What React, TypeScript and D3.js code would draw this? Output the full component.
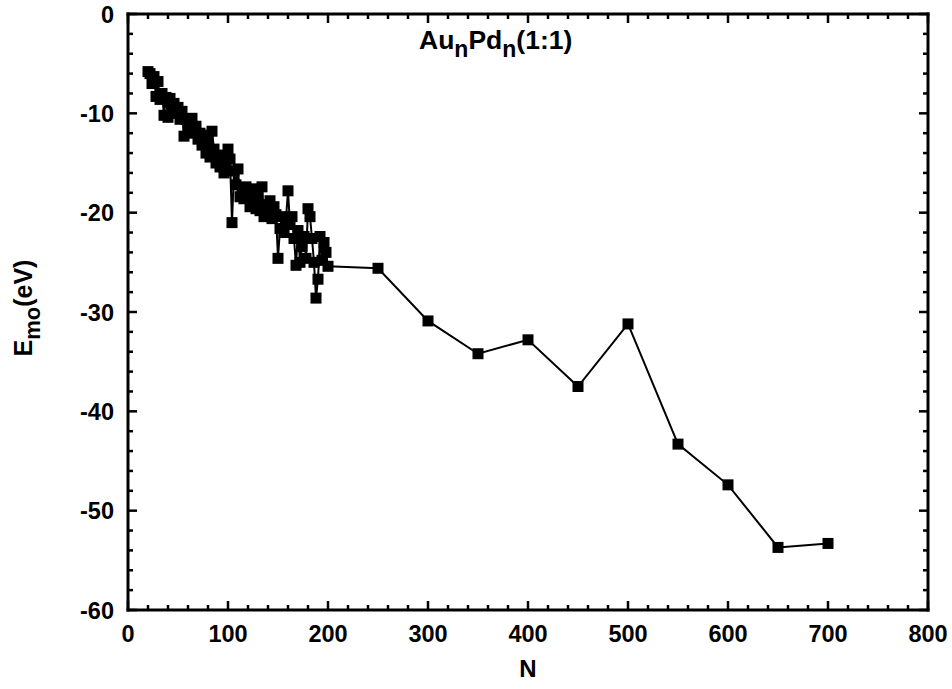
import React from "react";
import * as d3 from "d3";

const clusterN: number[] = d3.range(20, 201, 2);
const clusterE: number[] = [
  -5.8, -6.0, -7.0, -6.3, -8.3, -6.8, -8.6, -8.0, -10.2, -8.4,
  -10.4, -8.5, -9.6, -9.0, -10.0, -9.4, -10.6, -9.8, -12.3, -10.6,
  -11.2, -12.0, -10.5, -11.8, -11.3, -12.6, -12.0, -13.2, -12.2, -14.0,
  -12.8, -14.4, -11.8, -13.6, -15.0, -14.2, -15.4, -14.6, -16.0, -15.0,
  -13.6, -14.6, -21.0, -15.8, -17.2, -15.6, -18.4, -17.6, -18.6, -17.4,
  -18.2, -19.4, -17.6, -18.8, -19.6, -18.4, -19.8, -17.4, -20.4, -19.2,
  -20.0, -18.8, -20.6, -19.4, -20.2, -24.6, -21.6, -20.4, -22.0, -20.6,
  -17.8, -21.2, -20.4, -22.6, -25.3, -21.8, -25.0, -23.4, -22.4, -24.6,
  -19.6, -20.4, -22.6, -25.0, -28.6, -26.7, -22.4, -24.8, -23.0, -24.0,
  -25.4,
];
const largeN: number[] = [250, 300, 350, 400, 450, 500, 550, 600, 650, 700];
const largeE: number[] = [-25.6, -30.9, -34.2, -32.8, -37.5, -31.2, -43.3, -47.4, -53.7, -53.3];

const xTicks: number[] = [0, 100, 200, 300, 400, 500, 600, 700, 800];
const yTicks: number[] = [0, -10, -20, -30, -40, -50, -60];

const FONT = "Arial, 'Liberation Sans', sans-serif";

export default function App() {
  const W = 952, H = 689;
  const left = 128, right = 928, top = 14, bottom = 610;
  const x = d3.scaleLinear().domain([0, 800]).range([left, right]);
  const y = d3.scaleLinear().domain([-60, 0]).range([bottom, top]);

  const data = [
    ...clusterN.map((n, i) => ({ n, e: clusterE[i] })),
    ...largeN.map((n, i) => ({ n, e: largeE[i] })),
  ];
  const line = d3.line<{ n: number; e: number }>().x(d => x(d.n)).y(d => y(d.e));

  const xMinor = d3.range(0, 801, 20).filter(v => v % 100 !== 0);
  const yMinor = d3.range(-60, 1, 2).filter(v => v % 10 !== 0);
  const maj = 9, min = 5;
  const ms = 11;

  const tickRects: { k: string; x: number; y: number; w: number; h: number }[] = [];
  const tw = 2.5;
  xTicks.forEach(v => {
    tickRects.push({ k: "xb" + v, x: x(v) - tw / 2, y: bottom - maj, w: tw, h: maj });
    tickRects.push({ k: "xt" + v, x: x(v) - tw / 2, y: top, w: tw, h: maj });
  });
  xMinor.forEach(v => {
    tickRects.push({ k: "xbm" + v, x: x(v) - tw / 2, y: bottom - min, w: tw, h: min });
    tickRects.push({ k: "xtm" + v, x: x(v) - tw / 2, y: top, w: tw, h: min });
  });
  yTicks.forEach(v => {
    tickRects.push({ k: "yl" + v, x: left, y: y(v) - tw / 2, w: maj, h: tw });
    tickRects.push({ k: "yr" + v, x: right - maj, y: y(v) - tw / 2, w: maj, h: tw });
  });
  yMinor.forEach(v => {
    tickRects.push({ k: "ylm" + v, x: left, y: y(v) - tw / 2, w: min, h: tw });
    tickRects.push({ k: "yrm" + v, x: right - min, y: y(v) - tw / 2, w: min, h: tw });
  });

  const fw = 3;
  return (
    <svg width={W} height={H} style={{ position: "absolute", left: 0, top: 0, background: "#fff" }}>
      <rect x={0} y={0} width={W} height={H} fill="#fff" />
      {tickRects.map(t => (
        <rect key={t.k} x={t.x} y={t.y} width={t.w} height={t.h} fill="#000" />
      ))}
      <rect x={left - fw / 2} y={top - fw / 2} width={right - left + fw} height={fw} fill="#000" />
      <rect x={left - fw / 2} y={bottom - fw / 2} width={right - left + fw} height={fw} fill="#000" />
      <rect x={left - fw / 2} y={top - fw / 2} width={fw} height={bottom - top + fw} fill="#000" />
      <rect x={right - fw / 2} y={top - fw / 2} width={fw} height={bottom - top + fw} fill="#000" />
      <path d={line(data) || ""} fill="none" stroke="#000" strokeWidth="2" />
      {data.map((d, i) => (
        <rect key={i} x={x(d.n) - ms / 2} y={y(d.e) - ms / 2} width={ms} height={ms} fill="#000" />
      ))}
      <g fontFamily={FONT} fontWeight="bold" fontSize={23.5} fill="#000">
        {xTicks.map(v => (
          <text key={"xl" + v} x={x(v)} y={bottom + 32} textAnchor="middle">{v}</text>
        ))}
        {yTicks.map(v => (
          <text key={"yl" + v} x={left - 14} y={y(v) + 8.5} textAnchor="end">{v}</text>
        ))}
      </g>
      <text x={528} y={677} fontFamily={FONT} fontWeight="bold" fontSize={24} textAnchor="middle">N</text>
      <text transform={`translate(32, ${308}) rotate(-90)`} fontFamily={FONT} fontWeight="bold" fontSize={25} textAnchor="middle">
        E<tspan fontSize={22} dy={8}>mo</tspan><tspan dy={-8}>(eV)</tspan>
      </text>
      <text x={419} y={49} fontFamily={FONT} fontWeight="bold" fontSize={26.5}>
        Au<tspan fontSize={23} dy={8}>n</tspan><tspan dy={-8}>Pd</tspan><tspan fontSize={23} dy={8}>n</tspan><tspan dy={-8}>(1:1)</tspan>
      </text>
    </svg>
  );
}
